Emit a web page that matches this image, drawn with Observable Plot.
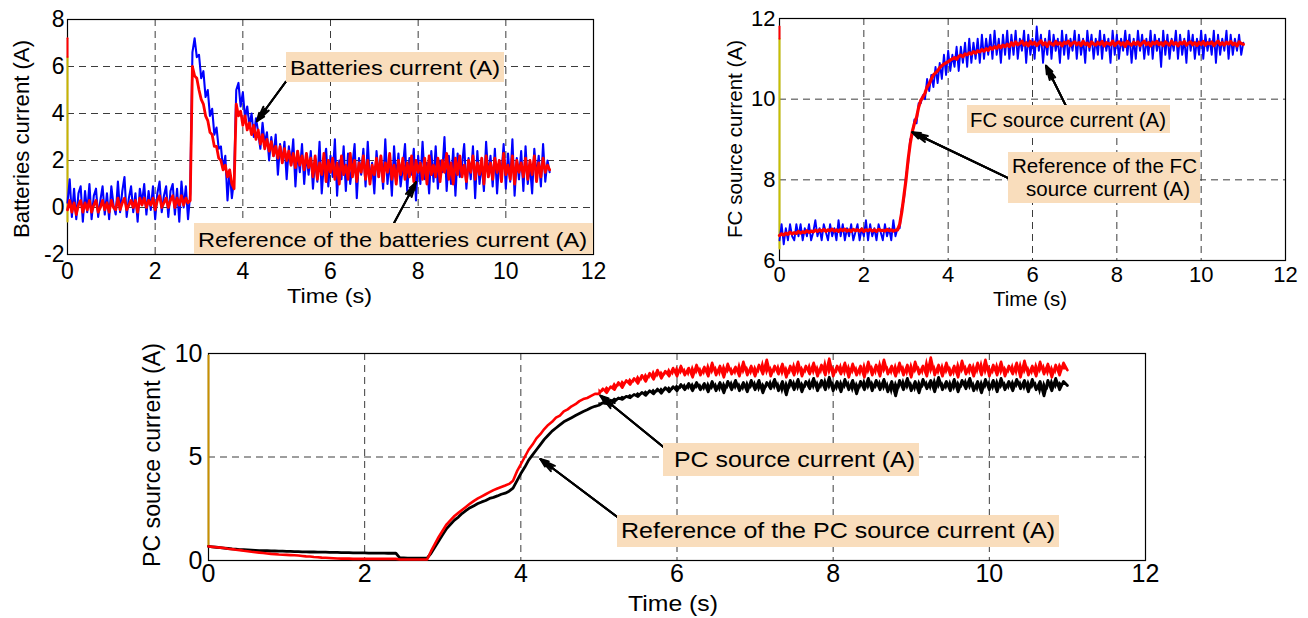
<!DOCTYPE html>
<html><head><meta charset="utf-8">
<script src="https://cdn.jsdelivr.net/npm/d3@7"></script>
<script src="https://cdn.jsdelivr.net/npm/@observablehq/plot@0.6"></script>
<style>
html,body{margin:0;padding:0;background:#fff;}
#root{position:relative;width:1308px;height:618px;overflow:hidden;background:#fff;font-family:"Liberation Sans",Arial,Helvetica,sans-serif;color:#000;}
.box{position:absolute;background:#F9DDBC;}
.txt{position:absolute;white-space:nowrap;line-height:1;color:#000;}
</style></head>
<body><div id="root"></div>
<script>
// ---------- sampling / ticks ----------
const T_STEP = 0.05; // s between samples
const X_TICKS = [0, 2, 4, 6, 8, 10, 12];
const X_GRID = [2, 4, 6, 8, 10];
const BAT_Y_TICKS = [-2, 0, 2, 4, 6, 8];
const BAT_Y_GRID = [0, 2, 4, 6];
const FC_Y_TICKS = [6, 8, 10, 12];
const FC_Y_GRID = [8, 10];
const PC_Y_TICKS = [0, 5, 10];
const PC_Y_GRID = [5];
const INIT_T = [0, 0];
const PC_NOISE_FROM = 5; // s, where the PC currents become a noisy band

// ---------- Batteries current (A) ----------
const BAT_BLUE = [
 0.2,1.2,-0.4,0.8,-0.5,0.6,0.9,-0.6,0.7,-0.2,
 1.0,-0.5,0.5,0.8,-0.4,0.3,0.9,-0.3,0.6,-0.5,
 0.9,0.1,-0.3,1.1,-0.2,0.7,1.3,-0.4,0.4,0.9,
 -0.2,0.6,-0.6,0.8,0.2,1.0,-0.3,0.7,-0.1,0.9,
 -0.5,0.6,1.1,-0.2,0.5,0.9,-0.4,0.7,1.0,-0.3,
 0.8,-0.6,1.1,0.0,0.9,-0.5,0.6,6.6,7.2,6.4,
 6.5,5.5,5.8,4.7,5.0,3.9,4.2,3.1,3.4,2.5,
 2.6,1.6,2.2,0.3,1.6,0.4,1.2,5.0,5.3,4.3,
 4.9,3.8,4.3,3.5,4.0,3.0,3.8,3.2,2.5,3.6,
 2.7,3.2,2.0,3.0,2.2,3.1,1.4,2.7,1.9,2.8,
 1.2,2.6,1.8,2.9,0.9,2.4,1.5,2.7,1.0,2.3,
 1.4,2.4,0.8,2.1,1.1,2.8,0.6,1.9,2.5,0.9,
 2.2,1.3,2.9,0.5,2.0,1.2,2.6,0.7,2.3,1.0,
 1.8,2.7,0.4,2.1,1.4,2.5,0.9,2.8,1.1,1.9,
 0.6,2.4,1.3,2.2,0.8,2.9,1.0,2.0,0.5,2.6,
 1.2,2.3,0.9,1.7,2.7,0.7,2.1,1.4,2.5,0.3,
 2.2,1.0,2.8,1.2,1.9,0.6,2.4,1.1,2.6,0.8,
 2.0,1.5,3.0,0.7,2.2,1.0,2.5,0.5,2.3,1.3,
 1.8,2.7,0.8,2.1,1.2,2.6,0.4,2.4,1.0,1.9,
 0.7,2.8,1.3,2.2,0.9,2.5,0.6,2.0,1.4,2.7,
 0.8,2.3,1.1,2.9,0.5,2.1,1.2,2.4,0.7,2.6,
 1.0,1.8,0.6,2.5,1.3,2.2,0.9,2.7,1.1,2.0,
 1.5];
const BAT_REF = [
 -0.1,0.3,-0.2,0.2,-0.3,0.1,0.3,-0.2,0.2,-0.1,
 0.3,-0.2,0.1,0.3,-0.2,0.0,0.3,-0.1,0.2,-0.2,
 0.3,0.0,-0.1,0.4,-0.1,0.2,0.4,-0.1,0.1,0.3,
 0.0,0.3,-0.2,0.4,0.1,0.4,0.0,0.3,0.1,0.4,
 -0.1,0.3,0.5,0.0,0.2,0.4,0.0,0.3,0.5,0.0,
 0.4,0.1,0.5,0.1,0.4,0.2,0.3,6.0,5.6,5.5,
 5.0,4.6,4.4,3.9,3.7,3.2,3.1,2.6,2.6,2.1,
 2.0,1.6,1.8,1.3,1.6,1.0,0.8,4.4,3.9,4.1,
 3.5,3.9,3.3,3.6,3.1,3.5,2.9,3.3,2.7,3.1,
 2.5,2.9,2.4,2.8,2.2,2.6,2.1,2.6,1.9,2.5,
 2.0,2.4,1.8,2.3,1.7,2.4,1.8,2.2,1.6,2.3,
 1.7,2.1,1.3,2.2,1.2,1.9,1.4,2.3,1.1,2.0,
 1.5,2.1,1.2,1.9,1.0,2.2,1.4,1.8,1.2,2.3,
 1.3,2.0,1.1,1.9,1.5,2.2,1.2,2.0,1.0,1.8,
 1.4,2.1,1.3,2.2,1.1,1.9,1.5,2.3,1.2,1.8,
 1.0,2.0,1.4,2.1,1.2,1.9,1.3,2.2,1.1,2.0,
 1.5,1.9,1.2,2.1,1.0,2.2,1.4,1.8,1.3,2.1,
 1.1,2.0,1.5,2.3,1.2,1.9,1.0,2.1,1.4,2.2,
 1.3,1.8,1.1,2.0,1.5,2.2,1.2,1.9,1.4,2.1,
 1.0,2.2,1.3,1.9,1.2,2.1,1.5,2.0,1.1,2.3,
 1.4,1.8,1.2,2.2,1.0,2.0,1.5,1.9,1.3,2.1,
 1.2,2.0,1.4,2.2,1.1,1.9,1.3,2.1,1.5,1.8,
 1.6];
const BAT_INIT_RED = [7.2, 6.4];
const BAT_INIT_YEL = [6.4, -0.6];

// ---------- FC source current (A) ----------
const FC_BLUE = [
 6.5,6.9,6.4,6.8,6.5,6.9,6.6,6.5,6.9,6.6,
 6.9,6.5,6.8,6.6,6.9,6.5,6.7,7.0,6.6,6.8,
 6.5,6.9,6.7,6.5,6.9,6.6,6.8,6.5,7.0,6.6,
 6.9,6.5,6.8,6.6,6.9,6.5,6.7,6.9,6.5,6.8,
 6.6,7.0,6.5,6.9,6.6,6.8,6.5,6.9,6.7,6.5,
 6.9,6.6,6.8,6.5,7.0,6.6,6.8,6.8,7.3,7.5,
 8.1,8.4,9.0,9.1,9.5,9.4,9.9,9.9,10.1,10.0,
 10.5,10.2,10.6,10.3,10.8,10.4,10.9,10.5,11.1,10.6,
 11.2,10.7,11.1,10.8,11.3,10.7,11.3,10.9,11.4,10.8,
 11.5,10.9,11.4,11.0,11.5,10.9,11.6,11.0,11.5,11.1,
 11.6,11.0,11.7,11.1,11.5,10.9,11.6,11.1,11.7,11.0,
 11.6,11.1,11.7,11.0,11.5,11.2,11.7,10.9,11.6,11.1,
 11.5,11.0,11.8,11.2,11.6,10.9,11.5,11.1,11.7,11.0,
 11.6,11.2,11.5,10.9,11.7,11.1,11.6,11.0,11.5,11.2,
 11.7,11.0,11.6,11.1,11.5,10.9,11.7,11.2,11.6,11.0,
 11.5,11.1,11.7,11.0,11.6,11.2,11.5,10.9,11.7,11.1,
 11.6,11.0,11.5,11.2,11.7,11.1,11.6,10.9,11.5,11.0,
 11.7,11.2,11.6,11.0,11.5,11.1,11.7,11.0,11.6,11.2,
 11.5,10.8,11.7,11.1,11.6,11.0,11.5,11.2,11.7,11.0,
 11.6,11.1,11.5,10.9,11.7,11.2,11.6,11.0,11.5,11.1,
 11.7,11.0,11.6,11.2,11.5,11.1,11.7,10.9,11.6,11.1,
 11.5,11.2,11.7,11.0,11.6,11.1,11.5,11.2,11.6,11.1,
 11.4];
const FC_REF = [
 6.62,6.66,6.63,6.68,6.65,6.70,6.66,6.69,6.67,6.72,
 6.68,6.71,6.69,6.74,6.70,6.73,6.71,6.75,6.72,6.76,
 6.73,6.77,6.72,6.76,6.74,6.78,6.73,6.76,6.72,6.77,
 6.74,6.78,6.73,6.76,6.72,6.77,6.74,6.76,6.73,6.78,
 6.72,6.76,6.74,6.77,6.73,6.76,6.72,6.77,6.74,6.75,
 6.73,6.77,6.74,6.76,6.73,6.75,6.76,6.9,7.2,7.6,
 8.0,8.5,8.9,9.2,9.4,9.55,9.8,9.97,10.05,10.15,
 10.3,10.38,10.5,10.6,10.65,10.7,10.78,10.83,10.87,10.9,
 10.93,10.97,11.0,11.03,10.99,11.06,11.09,11.05,11.12,11.1,
 11.15,11.12,11.18,11.14,11.2,11.17,11.23,11.19,11.25,11.21,
 11.28,11.24,11.3,11.26,11.33,11.28,11.34,11.3,11.36,11.31,
 11.40,11.33,11.42,11.35,11.38,11.44,11.34,11.40,11.32,11.43,
 11.36,11.41,11.33,11.39,11.45,11.35,11.40,11.31,11.42,11.37,
 11.34,11.43,11.36,11.40,11.32,11.41,11.38,11.44,11.33,11.39,
 11.42,11.35,11.40,11.33,11.44,11.36,11.39,11.31,11.42,11.37,
 11.34,11.41,11.36,11.43,11.32,11.40,11.38,11.35,11.44,11.33,
 11.39,11.42,11.35,11.40,11.31,11.43,11.37,11.34,11.41,11.36,
 11.42,11.33,11.39,11.44,11.35,11.40,11.32,11.41,11.37,11.43,
 11.35,11.40,11.33,11.42,11.38,11.34,11.44,11.36,11.40,11.32,
 11.41,11.37,11.43,11.34,11.39,11.42,11.35,11.40,11.33,11.41,
 11.36,11.43,11.34,11.40,11.37,11.42,11.33,11.39,11.44,11.35,
 11.40,11.34,11.41,11.37,11.43,11.35,11.39,11.32,11.42,11.38,
 11.36];
const FC_INIT_RED = [11.8, 11.5];
const FC_INIT_YEL = [11.5, 6.3];

// ---------- PC source current (A) ----------
const PC_RED = [
 0.68,0.66,0.64,0.62,0.60,0.57,0.55,0.52,0.50,0.47,
 0.45,0.42,0.40,0.38,0.36,0.34,0.32,0.31,0.29,0.28,
 0.27,0.26,0.25,0.24,0.22,0.20,0.19,0.17,0.16,0.14,
 0.13,0.12,0.11,0.10,0.09,0.09,0.09,0.08,0.08,0.08,
 0.08,0.08,0.08,0.08,0.08,0.08,0.08,0.08,0.08,0.05,
 0.05,0.05,0.05,0.05,0.05,0.05,0.05,0.45,0.8,1.15,
 1.45,1.75,1.95,2.15,2.3,2.45,2.6,2.75,2.88,3.0,
 3.1,3.2,3.3,3.4,3.48,3.55,3.62,3.7,3.85,4.3,
 4.65,5.0,5.35,5.6,5.9,6.1,6.35,6.55,6.7,6.9,
 7.0,7.2,7.3,7.45,7.55,7.7,7.8,7.85,7.95,8.05,
 8.05,8.3,8.1,8.4,8.25,8.6,8.35,8.7,8.5,8.8,
 8.55,8.95,8.65,9.05,8.75,9.2,8.8,9.15,8.9,9.3,
 8.9,9.4,8.95,9.3,8.85,9.45,8.95,9.35,8.9,9.55,
 8.95,9.4,8.85,9.5,9.0,9.35,8.9,9.6,8.95,9.4,
 8.9,9.45,9.0,9.7,8.9,9.4,9.0,9.5,8.85,9.4,
 8.95,9.6,8.9,9.4,9.0,9.55,8.9,9.45,8.95,9.75,
 8.9,9.4,9.0,9.55,8.85,9.5,8.95,9.4,8.85,9.6,
 8.95,9.45,8.9,9.7,9.0,9.4,8.9,9.55,8.95,9.45,
 8.85,9.6,9.0,9.4,8.9,9.8,8.95,9.45,8.9,9.55,
 8.95,9.4,8.85,9.65,9.0,9.45,8.9,9.55,8.95,9.7,
 8.9,9.45,8.95,9.6,8.9,9.4,9.0,9.55,8.85,9.65,
 8.95,9.4,8.9,9.6,9.0,9.5,8.85,9.45,8.95,9.55,
 9.2];
const PC_REF = [
 0.68,0.66,0.64,0.62,0.60,0.58,0.56,0.55,0.53,0.52,
 0.51,0.50,0.49,0.48,0.48,0.47,0.46,0.46,0.45,0.45,
 0.44,0.44,0.43,0.43,0.42,0.42,0.41,0.41,0.40,0.40,
 0.40,0.39,0.39,0.39,0.38,0.38,0.38,0.37,0.37,0.37,
 0.37,0.36,0.36,0.36,0.36,0.36,0.35,0.35,0.35,0.13,
 0.12,0.11,0.11,0.11,0.11,0.11,0.12,0.35,0.65,0.95,
 1.25,1.55,1.75,1.95,2.1,2.28,2.42,2.55,2.65,2.75,
 2.83,2.9,3.0,3.05,3.12,3.2,3.25,3.35,3.5,3.85,
 4.2,4.5,4.85,5.1,5.35,5.6,5.85,6.05,6.25,6.4,
 6.55,6.7,6.8,6.9,7.0,7.1,7.2,7.28,7.38,7.45,
 7.5,7.62,7.58,7.74,7.68,7.85,7.78,7.93,7.86,8.02,
 7.92,8.12,7.98,8.2,8.05,8.28,8.08,8.35,8.15,8.4,
 8.2,8.5,8.25,8.55,8.2,8.6,8.25,8.55,8.15,8.65,
 8.2,8.6,8.1,8.65,8.25,8.7,8.2,8.6,8.15,8.7,
 8.25,8.7,8.1,8.6,8.3,8.75,8.2,8.65,8.0,8.7,
 8.25,8.75,8.15,8.65,8.3,8.8,8.2,8.7,8.25,8.85,
 8.2,8.65,8.15,8.75,8.25,8.7,8.05,8.65,8.25,8.8,
 8.2,8.7,8.25,8.75,8.15,8.65,7.95,8.7,8.25,8.8,
 8.2,8.65,8.1,8.75,8.3,8.7,8.15,8.85,8.25,8.65,
 8.2,8.75,8.15,8.7,8.3,8.8,8.2,8.65,8.1,8.75,
 8.25,8.7,8.15,8.8,8.25,8.65,8.2,8.75,8.3,8.7,
 8.15,8.75,8.25,8.65,7.95,8.7,8.2,8.8,8.25,8.65,
 8.45];
const PC_INIT_YEL = [9.9, 0.7];

// ---------- annotation arrows (data coordinates: tail -> head) ----------
const BAT_ARROWS = [
  {x1: 4.98, y1: 5.35, x2: 4.32, y2: 3.67, w: 2},
  {x1: 7.45, y1: -0.66, x2: 7.95, y2: 1.08, w: 1.2}
];
const FC_ARROWS = [
  {x1: 6.79, y1: 9.84, x2: 6.32, y2: 10.83, w: 2},
  {x1: 5.45, y1: 8.03, x2: 3.15, y2: 9.18, w: 2}
];
const PC_ARROWS = [
  {x1: 5.83, y1: 5.47, x2: 5.02, y2: 7.96, w: 2},
  {x1: 5.24, y1: 2.09, x2: 4.25, y2: 4.90, w: 2}
];

// ---------- helpers ----------
const FONT = '"Liberation Sans", Arial, Helvetica, sans-serif';
const root = document.getElementById("root");
const series = (vals) => vals.map((v, i) => ({t: Math.round(i * T_STEP * 100) / 100, v}));
// each sample paired with the next one: used to fill the noise band of a signal
const band = (vals, from) => series(vals)
  .map((d, i, a) => ({t: d.t, v: d.v, vn: i + 1 < a.length ? a[i + 1].v : d.v}))
  .filter(d => d.t >= from);
const initSeg = (vals) => vals.map((v, i) => ({t: INIT_T[i], v}));
const fmt = (d) => String(d);

function arrowMarks(arr) {
  return [
    Plot.arrow(arr, {x1: "x1", y1: "y1", x2: "x2", y2: "y2", stroke: "#000", strokeWidth: d => d.w, headLength: 13, headAngle: 42}),
    Plot.arrow(arr, {x1: "x1", y1: "y1", x2: "x2", y2: "y2", stroke: "#000", strokeWidth: 2, headLength: 12, headAngle: 24}),
    Plot.arrow(arr, {x1: "x1", y1: "y1", x2: "x2", y2: "y2", stroke: "#000", strokeWidth: 2, headLength: 11, headAngle: 10})
  ];
}

function panel(o) {
  const svg = Plot.plot({
    width: o.width, height: o.height,
    marginLeft: o.ml, marginRight: o.mr, marginTop: o.mt, marginBottom: o.mb,
    style: {fontSize: o.fontSize + "px", fontFamily: FONT, color: "#000", background: "transparent", overflow: "visible"},
    x: {domain: [0, 12], ticks: X_TICKS, tickSize: 0, tickPadding: o.xPad, label: null, tickFormat: fmt},
    y: {domain: o.yDomain, ticks: o.yTicks, tickSize: 0, tickPadding: o.yPad, label: null, tickFormat: fmt},
    marks: [
      Plot.ruleX(X_GRID, {stroke: "#3c3c3c", strokeWidth: 1, strokeDasharray: "7,5"}),
      Plot.ruleY(o.yGrid, {stroke: "#3c3c3c", strokeWidth: 1, strokeDasharray: "7,5"}),
      Plot.frame({stroke: "#000", strokeWidth: 1.2}),
      ...o.marks
    ]
  });
  svg.style.position = "absolute";
  svg.style.left = o.left + "px";
  svg.style.top = o.top + "px";
  root.appendChild(svg);
}

// Batteries panel
panel({
  left: 0, top: 0, width: 610, height: 300, ml: 67, mr: 17, mt: 19, mb: 46,
  fontSize: 23, xPad: 8, yPad: 3,
  yDomain: [-2, 8], yTicks: BAT_Y_TICKS, yGrid: BAT_Y_GRID,
  marks: [
    Plot.line(initSeg(BAT_INIT_YEL), {x: "t", y: "v", stroke: "#c8b400", strokeWidth: 2}),
    Plot.line(initSeg(BAT_INIT_RED), {x: "t", y: "v", stroke: "#ff0000", strokeWidth: 2}),
    Plot.line(series(BAT_BLUE), {x: "t", y: "v", stroke: "#0000ff", strokeWidth: 2.1}),
    Plot.line(series(BAT_REF), {x: "t", y: "v", stroke: "#ff0000", strokeWidth: 2.8}),
    ...arrowMarks(BAT_ARROWS)
  ]
});

// FC panel
panel({
  left: 700, top: 0, width: 608, height: 320, ml: 79, mr: 23, mt: 18, mb: 60,
  fontSize: 22, xPad: 6, yPad: 4,
  yDomain: [6, 12], yTicks: FC_Y_TICKS, yGrid: FC_Y_GRID,
  marks: [
    Plot.line(initSeg(FC_INIT_YEL), {x: "t", y: "v", stroke: "#c8c000", strokeWidth: 2}),
    Plot.line(initSeg(FC_INIT_RED), {x: "t", y: "v", stroke: "#ff0000", strokeWidth: 2}),
    Plot.line(series(FC_BLUE), {x: "t", y: "v", stroke: "#0000ff", strokeWidth: 1.9}),
    Plot.line(series(FC_REF), {x: "t", y: "v", stroke: "#ff0000", strokeWidth: 3.2}),
    ...arrowMarks(FC_ARROWS)
  ]
});

// PC panel
panel({
  left: 100, top: 330, width: 1100, height: 288, ml: 108, mr: 55, mt: 23, mb: 58,
  fontSize: 25, xPad: 4, yPad: 6,
  yDomain: [0, 10], yTicks: PC_Y_TICKS, yGrid: PC_Y_GRID,
  marks: [
    Plot.line(initSeg(PC_INIT_YEL), {x: "t", y: "v", stroke: "#c89000", strokeWidth: 2}),
    Plot.areaY(band(PC_REF, PC_NOISE_FROM), {x: "t", y1: "v", y2: "vn", fill: "#000000"}),
    Plot.line(series(PC_REF), {x: "t", y: "v", stroke: "#000000", strokeWidth: 2.8}),
    Plot.areaY(band(PC_RED, PC_NOISE_FROM), {x: "t", y1: "v", y2: "vn", fill: "#ff0000"}),
    Plot.line(series(PC_RED), {x: "t", y: "v", stroke: "#ff0000", strokeWidth: 2.6}),
    ...arrowMarks(PC_ARROWS)
  ]
});

// ---------- text (annotation boxes and axis titles) ----------
function addText(str, x, y, w, size, rotate) {
  const s = document.createElement("span");
  s.className = "txt";
  s.textContent = str;
  s.style.fontSize = size + "px";
  s.style.left = x + "px";
  s.style.top = y + "px";
  root.appendChild(s);
  const k = w / s.getBoundingClientRect().width;
  s.style.transformOrigin = "0 0";
  s.style.transform = rotate
    ? `rotate(-90deg) scaleX(${k}) translate(-50%,-50%)`
    : `scaleX(${k}) translate(0,-50%)`;
}
function addBox(x, y, w, h) {
  const b = document.createElement("div");
  b.className = "box";
  b.style.cssText += `left:${x}px;top:${y}px;width:${w}px;height:${h}px;`;
  root.appendChild(b);
}

const BOXES = [
  {box: [286, 52, 218, 30], lines: [["Batteries current (A)", 290, 67, 210]], size: 21},
  {box: [194, 223, 399, 30.5], lines: [["Reference of the batteries current (A)", 198, 238.5, 389]], size: 21},
  {box: [967, 105, 203, 28], lines: [["FC source current (A)", 969.5, 120, 196]], size: 20},
  {box: [1008, 152, 192, 51], lines: [["Reference of the FC", 1011.7, 165.8, 185], ["source current (A)", 1026, 189, 164]], size: 20},
  {box: [663, 443, 256, 33], lines: [["PC source current (A)", 674, 459.5, 241]], size: 22},
  {box: [617, 515, 442, 32], lines: [["Reference of the PC source current (A)", 621, 530.5, 434]], size: 22}
];
for (const b of BOXES) {
  addBox(...b.box);
  for (const [s, x, y, w] of b.lines) addText(s, x, y, w, b.size, false);
}

const AXIS_TITLES = [
  ["Time (s)", 287, 295, 85, 21, false],
  ["Time (s)", 993, 299, 74, 20, false],
  ["Time (s)", 628, 604, 90, 22, false],
  ["Batteries current (A)", 22, 139, 198, 22, true],
  ["FC source current (A)", 734, 139, 198, 21, true],
  ["PC source current (A)", 152, 455, 224, 23, true]
];
for (const a of AXIS_TITLES) addText(...a);
</script></body></html>
